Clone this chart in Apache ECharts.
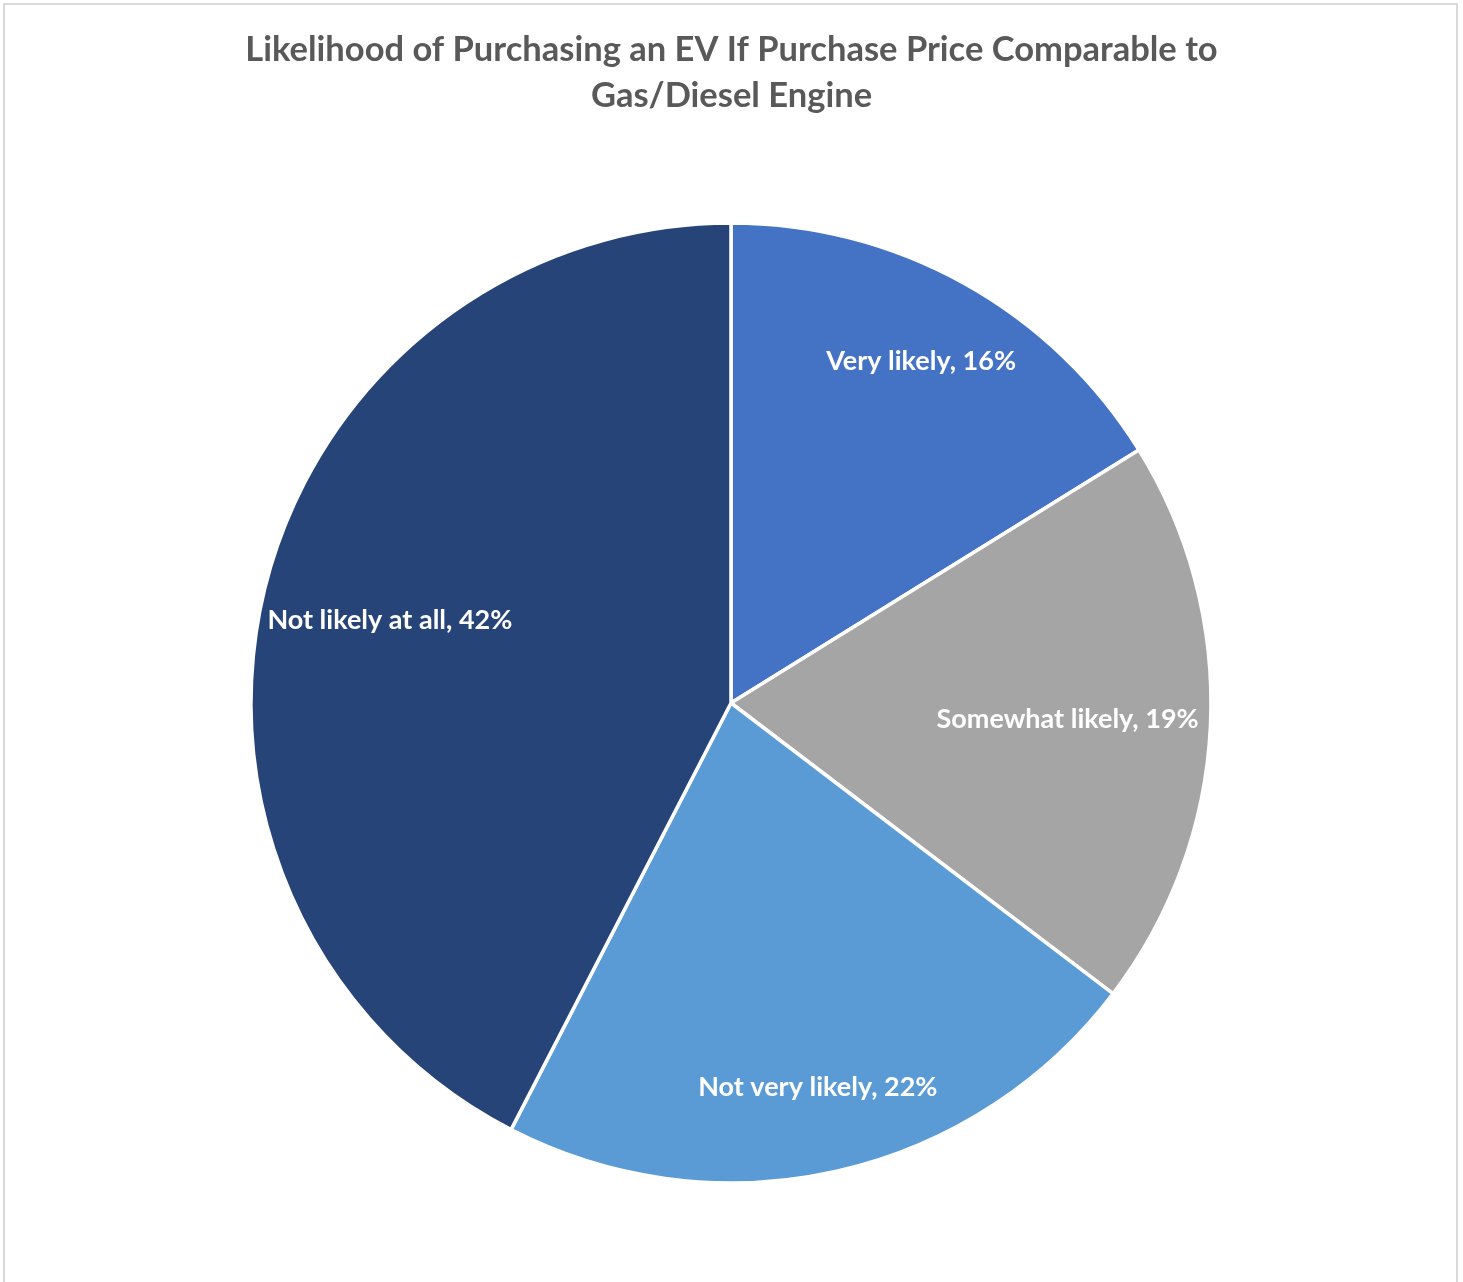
<!DOCTYPE html>
<html>
<head>
<meta charset="utf-8">
<title>Likelihood of Purchasing an EV</title>
<script src="https://cdn.jsdelivr.net/npm/echarts@6/dist/echarts.min.js"></script>
<style>
  html, body { margin: 0; padding: 0; background: #ffffff; }
  #chart { width: 1463px; height: 1282px; }
</style>
</head>
<body>
<div id="chart"></div>
<script>
// Survey answers and their shares (percent)
const categories = ['Very likely', 'Somewhat likely', 'Not very likely', 'Not likely at all'];
const shares = [16, 19, 22, 42];
const sliceColors = ['#4472C4', '#A5A5A5', '#5B9BD5', '#264478'];

const titleText = 'Likelihood of Purchasing an EV If Purchase Price Comparable to\nGas/Diesel Engine';

const FONT = 'Lato, "Open Sans", "Liberation Sans", sans-serif';
const CENTER = [731, 703];
const R = 480;

// How far from the centre each slice's label sits (px)
const labelDepth = [388, 334, 391, 348];

// One transparent ring per slice, so each label's centre lands at its own depth
function labelRing(sliceIndex) {
  const mid = labelDepth[sliceIndex];
  return {
    type: 'pie',
    center: CENTER,
    radius: [2 * mid - R, R],
    startAngle: 90,
    clockwise: true,
    silent: true,
    z: 5,
    avoidLabelOverlap: false,
    itemStyle: { color: 'rgba(0,0,0,0)', borderWidth: 0 },
    labelLine: { show: false },
    label: {
      position: 'inside',
      color: '#ffffff',
      fontFamily: FONT,
      fontWeight: 'bold',
      fontSize: 27,
      formatter: p => p.name + ', ' + p.value + '%'
    },
    emphasis: { disabled: true },
    data: categories.map((name, i) => ({
      name: name,
      value: shares[i],
      label: { show: i === sliceIndex }
    }))
  };
}

const chart = echarts.init(document.getElementById('chart'), null, { renderer: 'canvas' });

chart.setOption({
  backgroundColor: '#ffffff',
  animation: false,
  title: {
    text: titleText,
    left: 'center',
    top: 22,
    textStyle: {
      color: '#595959',
      fontFamily: FONT,
      fontWeight: 'bold',
      fontSize: 34.5,
      lineHeight: 46
    }
  },
  graphic: [{
    type: 'rect',
    shape: { x: 4, y: 4, width: 1453, height: 1300 },
    style: { fill: 'none', stroke: '#d9d9d9', lineWidth: 2 },
    silent: true,
    z: 0
  }],
  series: [
    {
      type: 'pie',
      center: CENTER,
      radius: R,
      startAngle: 90,
      clockwise: true,
      avoidLabelOverlap: false,
      label: { show: false },
      labelLine: { show: false },
      itemStyle: { borderColor: '#ffffff', borderWidth: 3.5 },
      emphasis: { disabled: true },
      data: categories.map((name, i) => ({
        name: name,
        value: shares[i],
        itemStyle: { color: sliceColors[i] }
      }))
    }
  ].concat(categories.map((_, i) => labelRing(i)))
});
</script>
</body>
</html>
